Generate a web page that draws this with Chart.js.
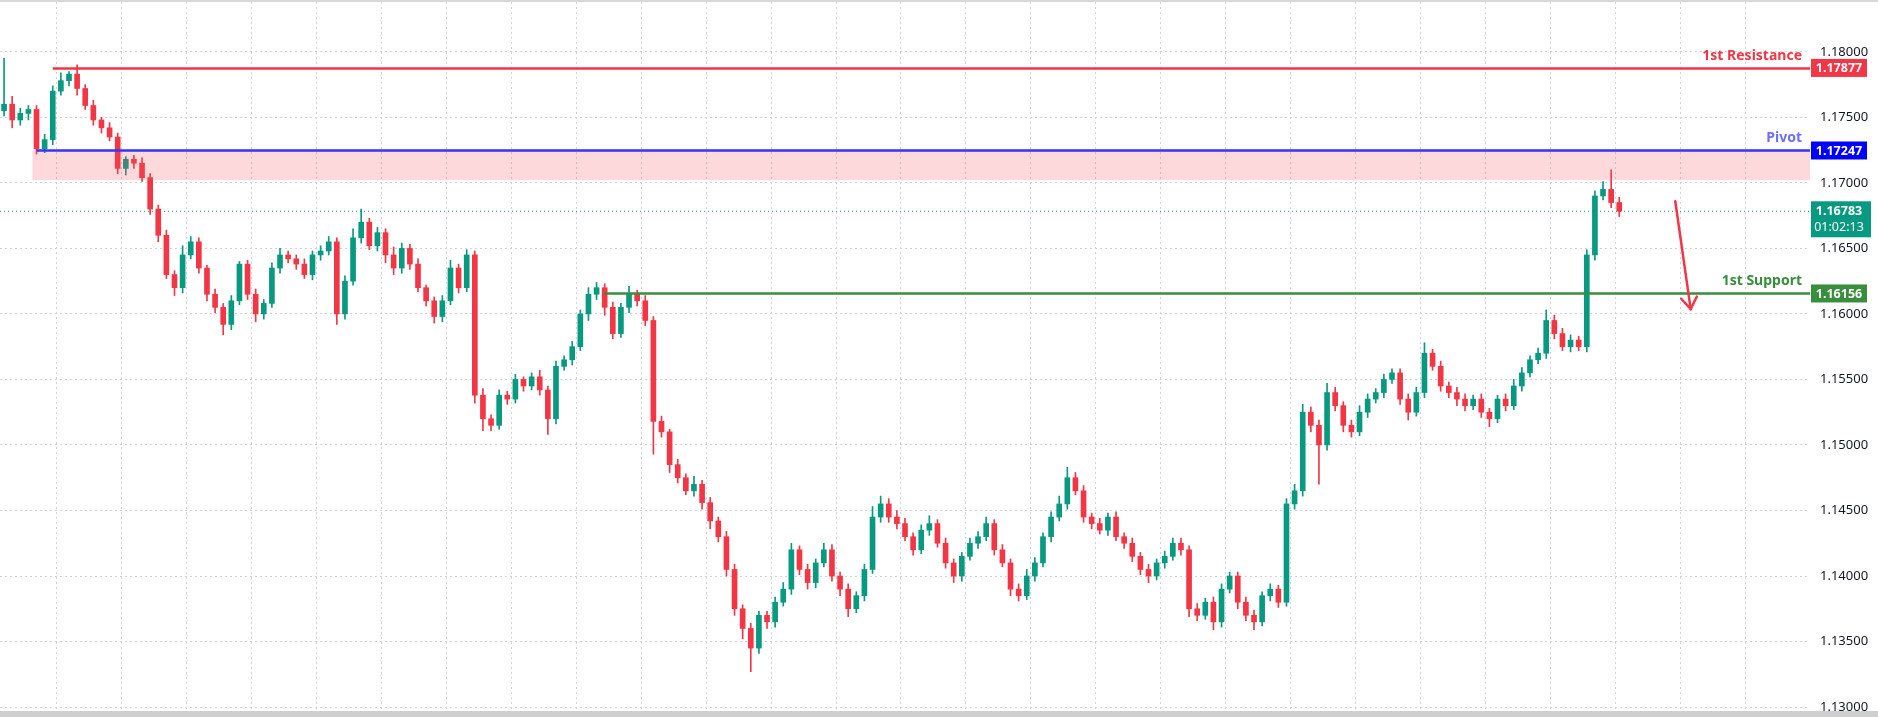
<!DOCTYPE html>
<html><head><meta charset="utf-8">
<script src="https://cdn.jsdelivr.net/npm/chart.js@4.4.1/dist/chart.umd.min.js"></script>
<style>
html,body{margin:0;padding:0;background:#fff;}
#wrap{position:relative;width:1878px;height:711px;border-top:2px solid #d8d8d8;box-sizing:border-box;}
#bot{height:6px;background:#cfcfcf;width:1878px;}
canvas{display:block;}
</style></head><body>
<div id="wrap"><canvas id="c" width="1878" height="709"></canvas></div><div id="bot"></div>
<script>
// closes in points (1.xxxxx -> value = 1 + p/100000)
const closes = [
17600,17480,17530,17560,17260,17330,17700,17780,17830,17720,
17590,17480,17420,17350,17110,17180,17150,17040,16800,16600,
16300,16200,16450,16550,16350,16150,16050,15920,16100,16380,
16150,16000,16080,16350,16450,16420,16380,16300,16450,16480,
16550,16000,16250,16580,16700,16520,16620,16450,16350,16500,
16380,16200,16100,15980,16100,16350,16200,16450,15380,15200,
15150,15380,15350,15500,15450,15520,15420,15200,15600,15650,
15750,16000,16150,16200,16050,15850,16050,16150,16100,15950,
15180,15100,14850,14750,14650,14700,14560,14420,14300,14050,
13750,13600,13450,13700,13650,13800,13900,14200,14050,13950,
14100,14200,14000,13900,13750,13850,14050,14450,14550,14450,
14400,14300,14200,14350,14400,14250,14100,14000,14150,14250,
14300,14400,14200,14100,13900,13850,14000,14100,14300,14450,
14550,14750,14650,14450,14400,14350,14450,14300,14250,14150,
14050,14000,14100,14150,14250,14200,13750,13700,13800,13650,
13900,14000,13800,13700,13650,13850,13900,13800,14550,14650,
15250,15150,15000,15400,15300,15150,15100,15250,15350,15400,
15500,15550,15350,15250,15400,15700,15600,15450,15400,15350,
15300,15350,15250,15200,15350,15300,15450,15550,15650,15700,
15950,15850,15750,15800,15750,16450,16900,16950,16850,16783];
const firstOpen = 17550;
const upWick = [
350,60,40,30,30,40,40,60,20,70,
30,40,20,40,30,20,30,40,30,30,
40,30,70,40,30,20,40,30,40,20,
30,40,30,40,50,30,30,40,30,40,
40,30,40,70,100,30,40,30,60,40,
30,40,20,30,40,60,30,40,30,50,
30,40,30,40,20,30,50,30,40,30,
40,30,50,40,30,40,30,60,30,40,
30,40,20,40,30,60,30,40,30,40,
40,30,40,30,30,40,50,50,30,40,
30,50,40,30,40,30,40,80,60,40,
50,40,30,40,60,30,40,30,30,40,
40,50,30,40,30,40,50,40,30,40,
60,80,40,40,30,40,30,40,30,40,
30,40,30,40,40,40,30,40,30,40,
40,30,30,40,40,30,40,30,40,50,
60,40,40,70,40,30,40,50,40,30,
40,30,30,40,40,80,30,40,30,40,
40,30,40,30,30,40,50,40,30,40,
80,40,40,40,30,40,40,60,150,40];
const dnWick = [
40,60,40,50,40,30,40,30,40,50,
30,40,40,30,40,50,40,30,40,50,
30,60,40,30,40,50,40,80,40,30,
40,60,40,30,40,30,40,30,40,40,
30,80,40,30,40,30,40,60,50,40,
40,30,40,50,40,30,40,30,60,90,
40,30,40,30,40,30,40,120,40,30,
40,30,50,40,60,40,30,40,40,40,
250,40,60,40,30,40,50,60,40,50,
50,80,180,40,50,40,30,40,40,50,
40,30,40,50,60,30,40,30,40,40,
40,30,40,30,40,30,40,50,40,30,
40,30,40,30,50,40,30,40,30,40,
30,40,30,40,40,30,40,30,40,40,
40,50,30,40,30,40,60,40,30,60,
40,30,50,40,60,30,40,40,30,40,
40,50,300,40,40,50,40,30,40,30,
40,30,40,60,30,40,30,40,40,50,
40,30,40,60,30,40,30,40,30,30,
40,40,30,40,30,40,40,30,40,40];
const yTicks = [1.13,1.135,1.14,1.145,1.15,1.155,1.16,1.165,1.17,1.175,1.18];
const resistance = 1.17877, pivot = 1.17247, zoneLow = 1.1702, support = 1.16156, lastPrice = 1.16783;
const countdown = "01:02:13";
const totalSlots = 223;

const P = p => 1 + p/100000;
const labels = [], bodies = [], wicks = [], colors = [];
for (let i=0;i<totalSlots;i++){
  labels.push(i);
  if (i<closes.length){
    const o = i===0?firstOpen:closes[i-1], c = closes[i];
    const hi = Math.max(o,c)+upWick[i], lo = Math.min(o,c)-dnWick[i];
    bodies.push([P(o), c===o?P(c)+0.00002:P(c)]);
    wicks.push([P(lo),P(hi)]);
    colors.push(c>=o?'#089981':'#f23645');
  } else { bodies.push(null); wicks.push(null); colors.push('#000'); }
}

const overlay = {
  id:'overlay',
  afterDatasetsDraw(chart){
    const {ctx, chartArea:a, scales:{x,y}} = chart;
    const R = a.right;
    ctx.save();
    ctx.strokeStyle='#089981'; ctx.lineWidth=1; ctx.setLineDash([1,3]);
    ctx.beginPath(); ctx.moveTo(a.left,y.getPixelForValue(lastPrice)); ctx.lineTo(R,y.getPixelForValue(lastPrice)); ctx.stroke();
    ctx.setLineDash([]);
    const zx = x.getPixelForValue(3.5);
    ctx.fillStyle='rgba(247,82,95,0.22)';
    ctx.fillRect(zx, y.getPixelForValue(pivot), R-zx, y.getPixelForValue(zoneLow)-y.getPixelForValue(pivot));
    const line=(v,fromIdx,col)=>{const yy=Math.round(y.getPixelForValue(v))+0.5;ctx.strokeStyle=col;ctx.lineWidth=2.5;ctx.beginPath();ctx.moveTo(x.getPixelForValue(fromIdx),yy);ctx.lineTo(R,yy);ctx.stroke();return yy;};
    const yr=line(resistance,6,'#f23645');
    const yp=line(pivot,4,'#3333ff');
    const ys=line(support,74,'#388e3c');
    ctx.font='bold 14px "Noto Sans", sans-serif'; ctx.textAlign='right'; ctx.textBaseline='bottom';
    ctx.fillStyle='#f23645'; ctx.fillText('1st Resistance',R-8,yr-5);
    ctx.fillStyle='#6d6dff'; ctx.fillText('Pivot',R-8,yp-5);
    ctx.fillStyle='#388e3c'; ctx.fillText('1st Support',R-8,ys-5);
    const ax1=x.getPixelForValue(205.9), ay1=y.getPixelForValue(1.1686), ax2=x.getPixelForValue(207.8), ay2=y.getPixelForValue(1.16037);
    ctx.strokeStyle='#f23645'; ctx.lineWidth=2.5; ctx.lineCap='round';
    ctx.beginPath(); ctx.moveTo(ax1,ay1); ctx.lineTo(ax2,ay2); ctx.stroke();
    const ang=Math.atan2(ay2-ay1,ax2-ax1);
    ctx.beginPath();
    ctx.moveTo(ax2-14*Math.cos(ang-0.6),ay2-14*Math.sin(ang-0.6)); ctx.lineTo(ax2,ay2);
    ctx.lineTo(ax2-14*Math.cos(ang+0.6),ay2-14*Math.sin(ang+0.6)); ctx.stroke();
    ctx.textAlign='center'; ctx.textBaseline='middle'; ctx.font='bold 12.5px "Noto Sans", sans-serif';
    const badge=(v,col,txt)=>{const yy=y.getPixelForValue(v);ctx.fillStyle=col;ctx.fillRect(R+1,yy-9,56,18);ctx.fillStyle='#fff';ctx.fillText(txt,R+29,yy+0.5);};
    badge(resistance,'#f23645','1.17877');
    badge(pivot,'#0000ff','1.17247');
    badge(support,'#388e3c','1.16156');
    const yl=y.getPixelForValue(lastPrice);
    ctx.fillStyle='#089981'; ctx.fillRect(R+1,yl-10,60,36);
    ctx.fillStyle='#fff'; ctx.fillText('1.16783',R+29,yl); ctx.font='12.5px "Noto Sans", sans-serif'; ctx.fillText(countdown,R+29,yl+16);
    ctx.restore();
  }
};

new Chart(document.getElementById('c'),{
  type:'bar',
  data:{labels,datasets:[
    {data:wicks,backgroundColor:colors,barThickness:1,grouped:false,order:2},
    {data:bodies,backgroundColor:colors,barThickness:5,grouped:false,order:1}
  ]},
  options:{
    responsive:false,animation:false,devicePixelRatio:1,
    layout:{padding:0},
    plugins:{legend:{display:false},tooltip:{enabled:false}},
    scales:{
      x:{offset:true,ticks:{display:false,autoSkip:false},border:{display:false,dash:[2,3]},
         grid:{drawTicks:false,color:c=>c.index%8===7?'#d0d3d9':'transparent'}},
      y:{position:'right',min:1.1297,max:1.1838,
         afterBuildTicks:s=>{s.ticks=yTicks.map(v=>({value:v}));},
         afterFit:s=>{s.width=68;s.paddingTop=0;s.paddingBottom=0;},
         border:{display:false,dash:[2,3]},
         grid:{drawTicks:false,color:'#d0d3d9'},
         ticks:{padding:10,color:'#131722',font:{family:'"Noto Sans", sans-serif',size:13},callback:v=>Number(v).toFixed(5)}}
    }
  },
  plugins:[overlay]
});
</script>
</body></html>
